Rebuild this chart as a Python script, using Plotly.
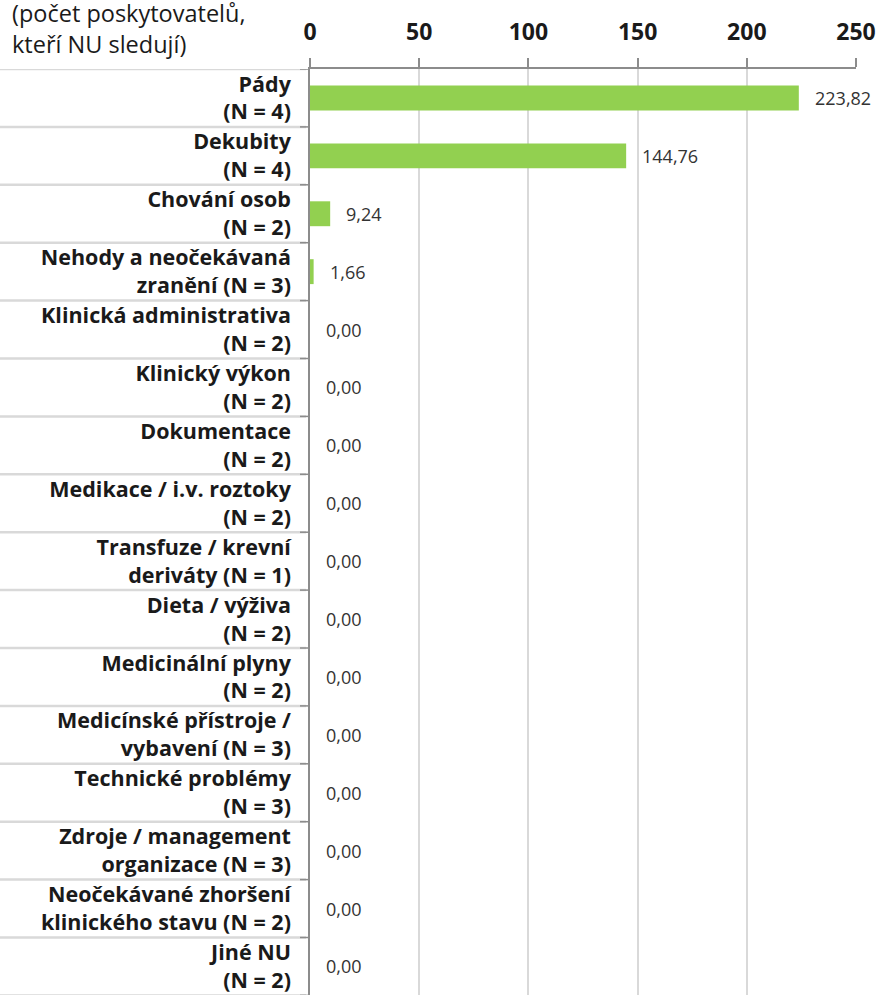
import plotly.graph_objects as go

categories = [
    "Pády<br>(N = 4)",
    "Dekubity<br>(N = 4)",
    "Chování osob<br>(N = 2)",
    "Nehody a neočekávaná<br>zranění (N = 3)",
    "Klinická administrativa<br>(N = 2)",
    "Klinický výkon<br>(N = 2)",
    "Dokumentace<br>(N = 2)",
    "Medikace / i.v. roztoky<br>(N = 2)",
    "Transfuze / krevní<br>deriváty (N = 1)",
    "Dieta / výživa<br>(N = 2)",
    "Medicinální plyny<br>(N = 2)",
    "Medicínské přístroje /<br>vybavení (N = 3)",
    "Technické problémy<br>(N = 3)",
    "Zdroje / management<br>organizace (N = 3)",
    "Neočekávané zhoršení<br>klinického stavu (N = 2)",
    "Jiné NU<br>(N = 2)",
]
values = [223.82, 144.76, 9.24, 1.66, 0, 0, 0, 0, 0, 0, 0, 0, 0, 0, 0, 0]
x_ticks = [0, 50, 100, 150, 200, 250]
axis_note = "(počet poskytovatelů,<br>kteří NU sledují)"

W, H = 883, 995
L, R, T = 310, 27, 69
plot_w = W - L - R
plot_h = H - T

FONT = "Open Sans"
labels = [f"{v:.2f}".replace(".", ",") for v in values]

fig = go.Figure()
fig.add_trace(go.Bar(
    x=values, y=categories, orientation="h",
    marker=dict(color="#92D050", line=dict(width=0)),
    width=0.43, hoverinfo="skip",
))

n = len(categories)
row_px = 57.9
visible_rows = plot_h / row_px

fig.update_layout(
    width=W, height=H,
    margin=dict(l=L, r=R, t=T, b=0, autoexpand=False),
    paper_bgcolor="white", plot_bgcolor="white",
    showlegend=False,
    font=dict(family=FONT, color="#1a1a1a"),
    xaxis=dict(
        side="top", range=[0, 250], tickvals=x_ticks,
        ticktext=[str(t) for t in x_ticks],
        showgrid=True, gridcolor="#d9d9d9", gridwidth=1.5,
        zeroline=False, showline=True, linecolor="#8c8c8c", linewidth=1.5,
        ticks="outside", ticklen=9, tickcolor="#8c8c8c", tickwidth=1.5,
        ticklabelstandoff=9,
        tickfont=dict(size=23, family=FONT, color="#1a1a1a", weight="bold"),
        fixedrange=True,
    ),
    yaxis=dict(
        type="category", categoryorder="array", categoryarray=categories,
        range=[-0.5 + visible_rows, -0.5],
        showgrid=False, zeroline=False,
        showline=True, linecolor="#8c8c8c", linewidth=1.5,
        ticks="", ticklabelstandoff=13,
        tickfont=dict(size=21.5, family=FONT, color="#1a1a1a", weight="bold"),
        fixedrange=True,
    ),
)

# category separators in the label area
for k in range(n + 1):
    fig.add_shape(type="line", xref="paper", yref="y",
                  x0=-L / plot_w, x1=-4 / plot_w, y0=k - 0.5, y1=k - 0.5,
                  line=dict(color="#d9d9d9", width=2.5), layer="below")
    fig.add_shape(type="line", xref="paper", yref="y",
                  x0=-10 / plot_w, x1=0, y0=k - 0.5, y1=k - 0.5,
                  line=dict(color="#8c8c8c", width=1.5))

for v, c, t in zip(values, categories, labels):
    fig.add_annotation(x=v, y=c, xref="x", yref="y", text=t, showarrow=False,
                       xanchor="left", yanchor="middle", xshift=14,
                       font=dict(size=18, family=FONT, color="#333333"))

fig.add_annotation(xref="paper", yref="paper", x=-(L - 10) / plot_w, y=1,
                   xanchor="left", yanchor="bottom", yshift=7, align="left",
                   text=axis_note, showarrow=False,
                   font=dict(size=23.5, family=FONT, color="#1a1a1a"))

fig.write_html("out.html", config={"displayModeBar": False},
               post_script="document.body.style.margin='0';")
